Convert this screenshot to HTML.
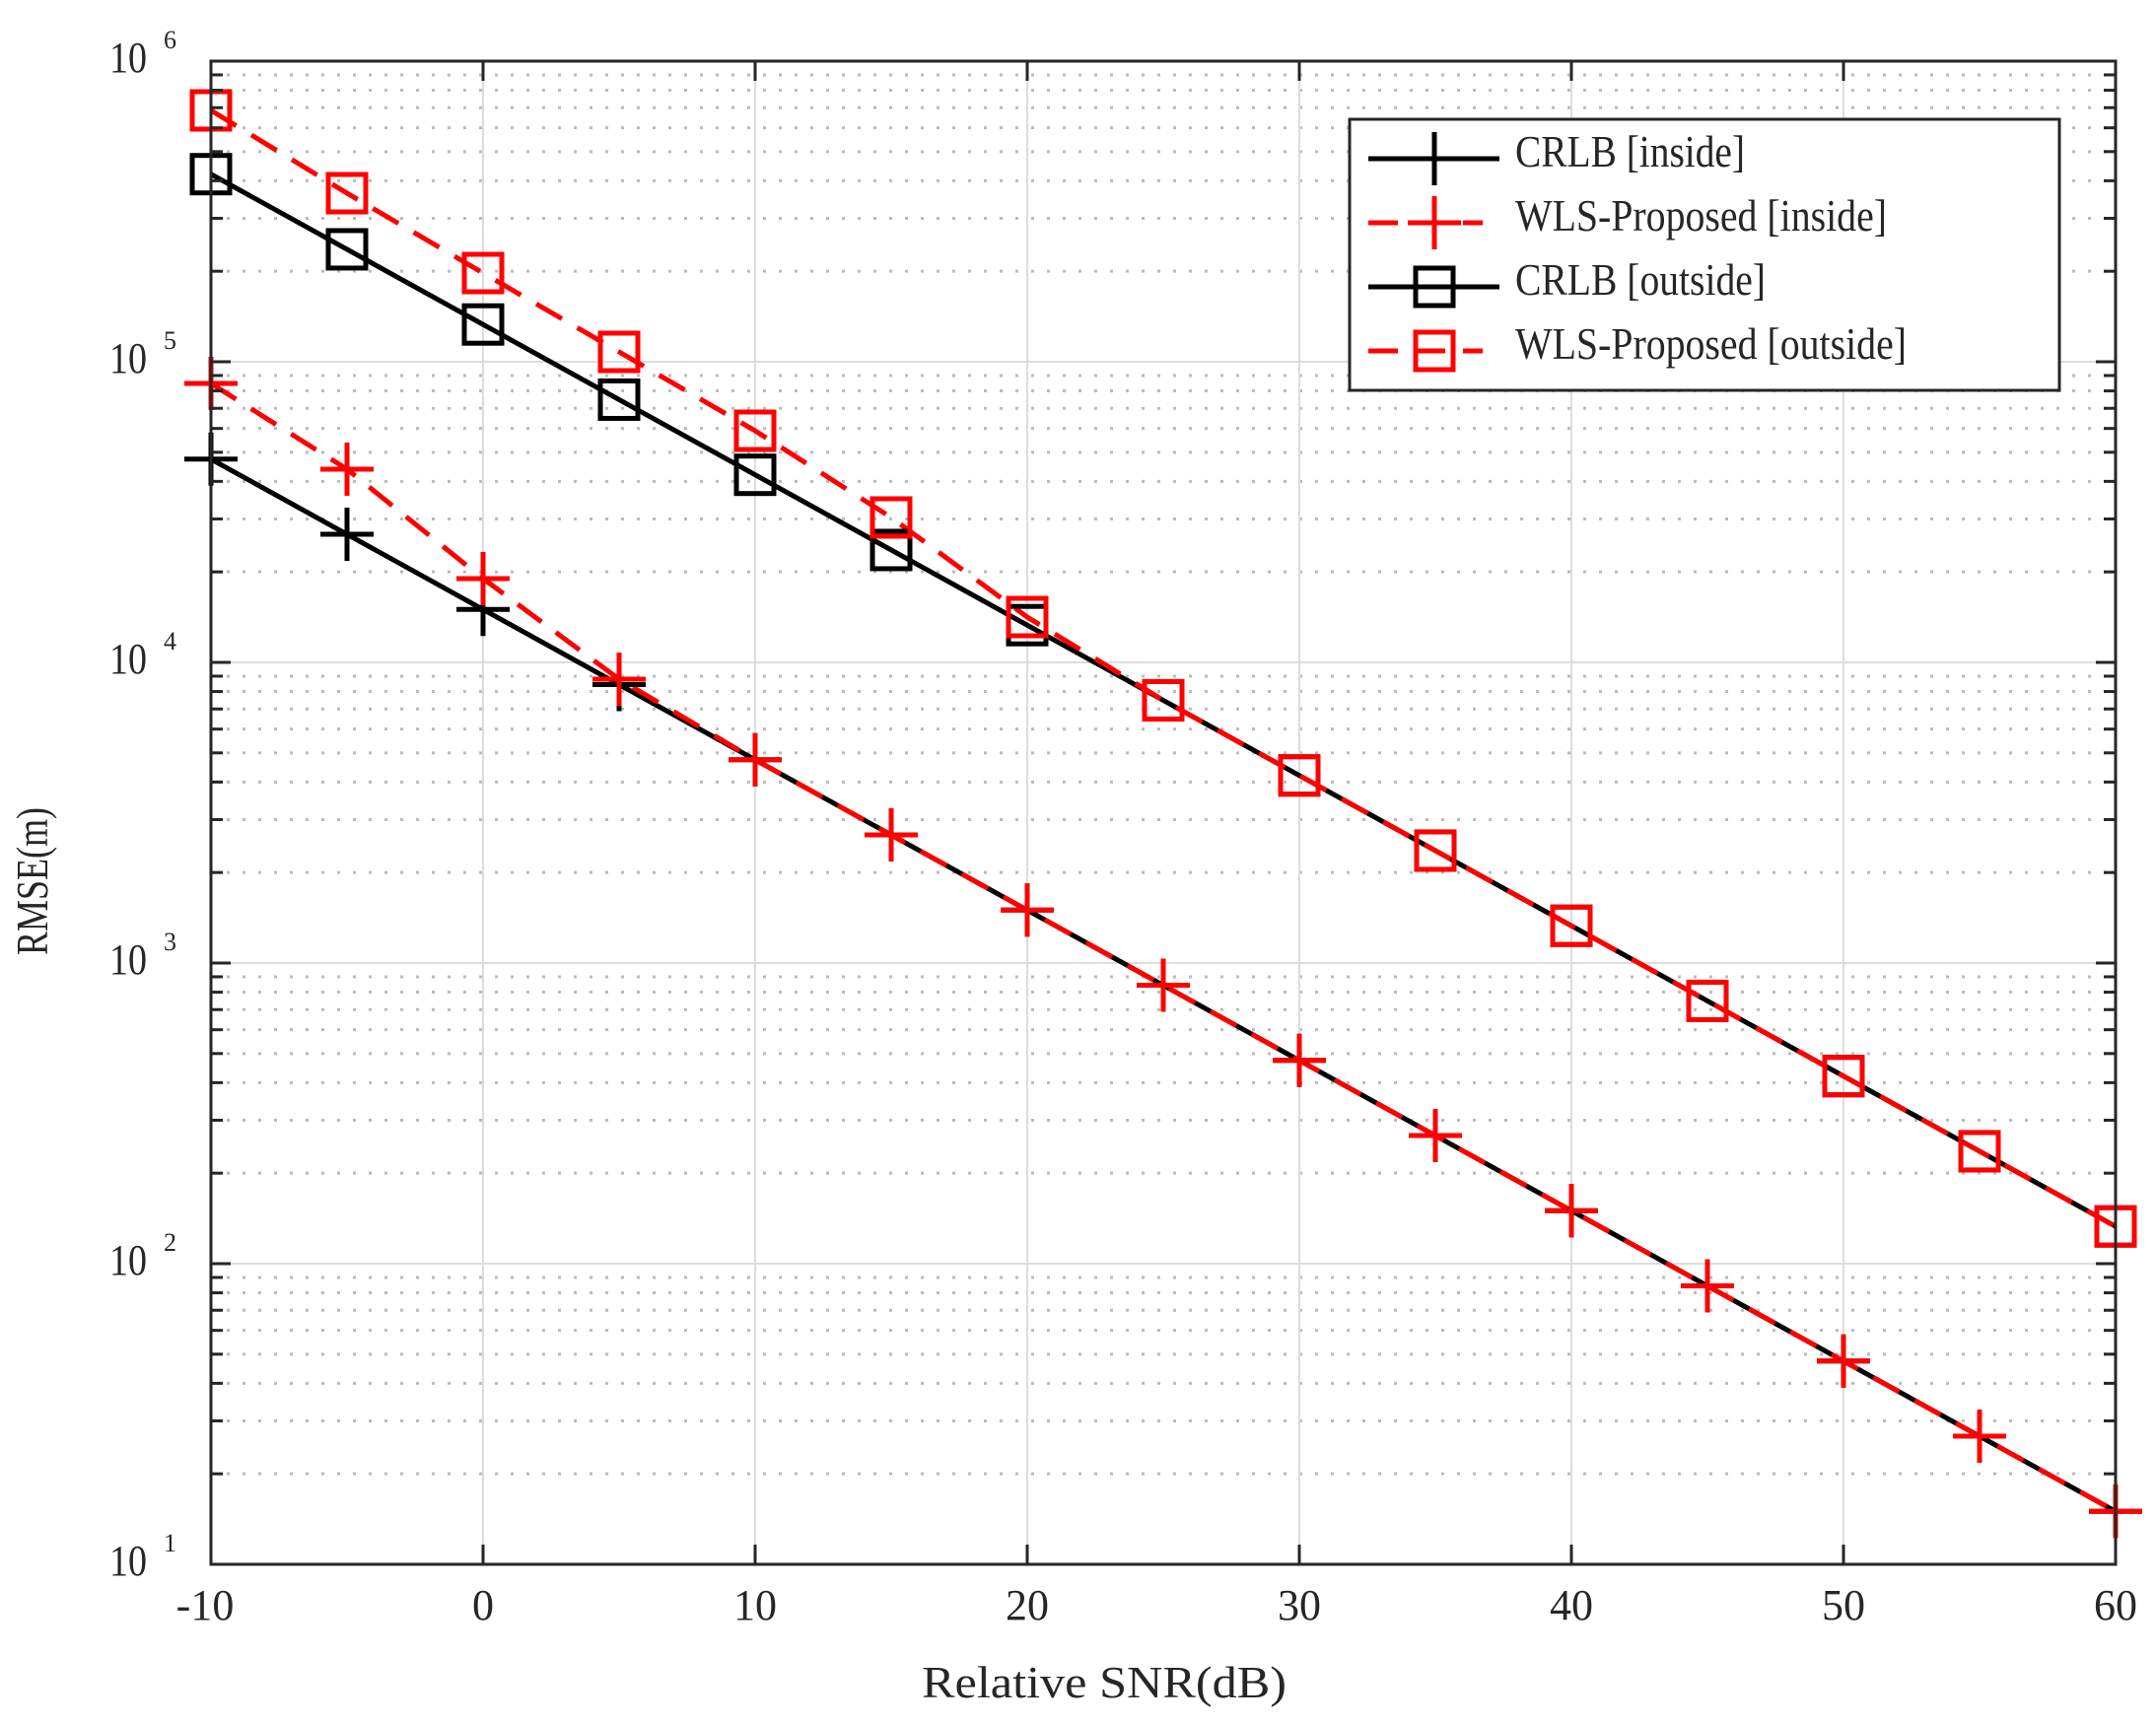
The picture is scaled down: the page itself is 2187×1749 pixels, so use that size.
<!DOCTYPE html>
<html><head><meta charset="utf-8"><style>
html,body{margin:0;padding:0;background:#fff;}
svg{display:block;}
text{font-family:"Liberation Serif",serif;fill:#262626;}
</style></head><body>
<svg id="s" width="2187" height="1749" viewBox="0 0 2187 1749" xmlns="http://www.w3.org/2000/svg">
<rect x="0" y="0" width="2187" height="1749" fill="#fff"/>
<g id="grid"></g>
<g id="data"></g>
<rect x="214" y="62" width="1932" height="1525" fill="none" stroke="#262626" stroke-width="3"/>
<g id="ticks"></g>
<g font-size="44">
<text x="111" y="73" textLength="38" lengthAdjust="spacingAndGlyphs">10</text><text x="166" y="49" font-size="26">6</text>
<text x="111" y="378" textLength="38" lengthAdjust="spacingAndGlyphs">10</text><text x="166" y="354" font-size="26">5</text>
<text x="111" y="683" textLength="38" lengthAdjust="spacingAndGlyphs">10</text><text x="166" y="659" font-size="26">4</text>
<text x="111" y="988" textLength="38" lengthAdjust="spacingAndGlyphs">10</text><text x="166" y="964" font-size="26">3</text>
<text x="111" y="1293" textLength="38" lengthAdjust="spacingAndGlyphs">10</text><text x="166" y="1269" font-size="26">2</text>
<text x="111" y="1598" textLength="38" lengthAdjust="spacingAndGlyphs">10</text><text x="166" y="1574" font-size="26">1</text>
</g>
<g font-size="44" text-anchor="middle">
<text x="208" y="1643">-10</text><text x="490" y="1643">0</text><text x="766" y="1643">10</text>
<text x="1042" y="1643">20</text><text x="1318" y="1643">30</text><text x="1594" y="1643">40</text>
<text x="1870" y="1643">50</text><text x="2146" y="1643">60</text>
</g>
<g font-size="46">
<text x="935" y="1722" textLength="370" lengthAdjust="spacingAndGlyphs">Relative SNR(dB)</text>
<text x="0" y="0" textLength="150" lengthAdjust="spacingAndGlyphs" transform="translate(48,969) rotate(-90)">RMSE(m)</text>
</g>
<rect x="1369" y="121" width="720" height="275" fill="#fff" stroke="#262626" stroke-width="3"/>
<g id="leg"></g>
<g font-size="46">
<text x="1537" y="169" textLength="233" lengthAdjust="spacingAndGlyphs">CRLB [inside]</text>
<text x="1537" y="234" textLength="377" lengthAdjust="spacingAndGlyphs">WLS-Proposed [inside]</text>
<text x="1537" y="299" textLength="254" lengthAdjust="spacingAndGlyphs">CRLB [outside]</text>
<text x="1537" y="364" textLength="397" lengthAdjust="spacingAndGlyphs">WLS-Proposed [outside]</text>
</g>
</svg>
<script>
const NS="http://www.w3.org/2000/svg";
function el(p,t,a){const e=document.createElementNS(NS,t);for(const k in a)e.setAttribute(k,a[k]);document.getElementById(p).appendChild(e);return e;}
const L=214,R=2146,T=62,B=1587;
const X=s=>L+(s+10)*27.6;
const Y=v=>T+(6-Math.log10(v))*305;
for(let k=1;k<=5;k++){for(let m=2;m<=9;m++){const y=Y(m*Math.pow(10,k));
 el("grid","line",{x1:L,x2:R,y1:y,y2:y,stroke:"#bbb","stroke-width":3,"stroke-dasharray":"3 13"});
 el("ticks","line",{x1:L,x2:L+12,y1:y,y2:y,stroke:"#262626","stroke-width":3});
 el("ticks","line",{x1:R,x2:R-12,y1:y,y2:y,stroke:"#262626","stroke-width":3});}}
for(let k=2;k<=5;k++){const y=Y(Math.pow(10,k));
 el("grid","line",{x1:L,x2:R,y1:y,y2:y,stroke:"#ddd","stroke-width":2});
 el("ticks","line",{x1:L,x2:L+20,y1:y,y2:y,stroke:"#262626","stroke-width":3});
 el("ticks","line",{x1:R,x2:R-20,y1:y,y2:y,stroke:"#262626","stroke-width":3});}
for(let s=0;s<=50;s+=10){const x=X(s);
 el("grid","line",{x1:x,x2:x,y1:T,y2:B,stroke:"#ddd","stroke-width":2});
 el("ticks","line",{x1:x,x2:x,y1:T,y2:T+20,stroke:"#262626","stroke-width":3});
 el("ticks","line",{x1:x,x2:x,y1:B,y2:B-20,stroke:"#262626","stroke-width":3});}
const S=[];for(let s=-10;s<=60;s+=5)S.push(s);
const cin=S.map(s=>618.3+15.25*s);
const win=cin.slice();win[0]=389;win[1]=476;win[2]=587;win[3]=689;
const cout=S.map(s=>329.2+15.25*s);
const wout=cout.slice();[112,196,277,357,437,525,626].forEach((v,i)=>wout[i]=v);
function line(ys,col,dash){el("data","polyline",{points:S.map((s,i)=>X(s)+","+ys[i]).join(" "),fill:"none",stroke:col,"stroke-width":5,"stroke-dasharray":dash||"none"});}
function plus(p,x,y,col){el(p,"path",{d:`M${x-27},${y}H${x+27}M${x},${y-27}V${y+27}`,stroke:col,"stroke-width":5,fill:"none"});}
function sq(p,x,y,col){el(p,"rect",{x:x-19,y:y-19,width:38,height:38,stroke:col,"stroke-width":5,fill:"none"});}
line(cin,"#000");line(cout,"#000");
line(win,"#f00","30 18");line(wout,"#f00","30 18");
S.forEach((s,i)=>{plus("data",X(s),cin[i],"#000");sq("data",X(s),cout[i],"#000");});
S.forEach((s,i)=>{plus("data",X(s),win[i],"#f00");sq("data",X(s),wout[i],"#f00");});
const ly=[161,226,291,356];
el("leg","line",{x1:1388,x2:1521,y1:ly[0],y2:ly[0],stroke:"#000","stroke-width":5});plus("leg",1455,ly[0],"#000");
el("leg","line",{x1:1388,x2:1504,y1:ly[1],y2:ly[1],stroke:"#f00","stroke-width":5,"stroke-dasharray":"30 18"});plus("leg",1455,ly[1],"#f00");
el("leg","line",{x1:1388,x2:1521,y1:ly[2],y2:ly[2],stroke:"#000","stroke-width":5});sq("leg",1455,ly[2],"#000");
el("leg","line",{x1:1388,x2:1504,y1:ly[3],y2:ly[3],stroke:"#f00","stroke-width":5,"stroke-dasharray":"30 18"});sq("leg",1455,ly[3],"#f00");
</script>
</body></html>
